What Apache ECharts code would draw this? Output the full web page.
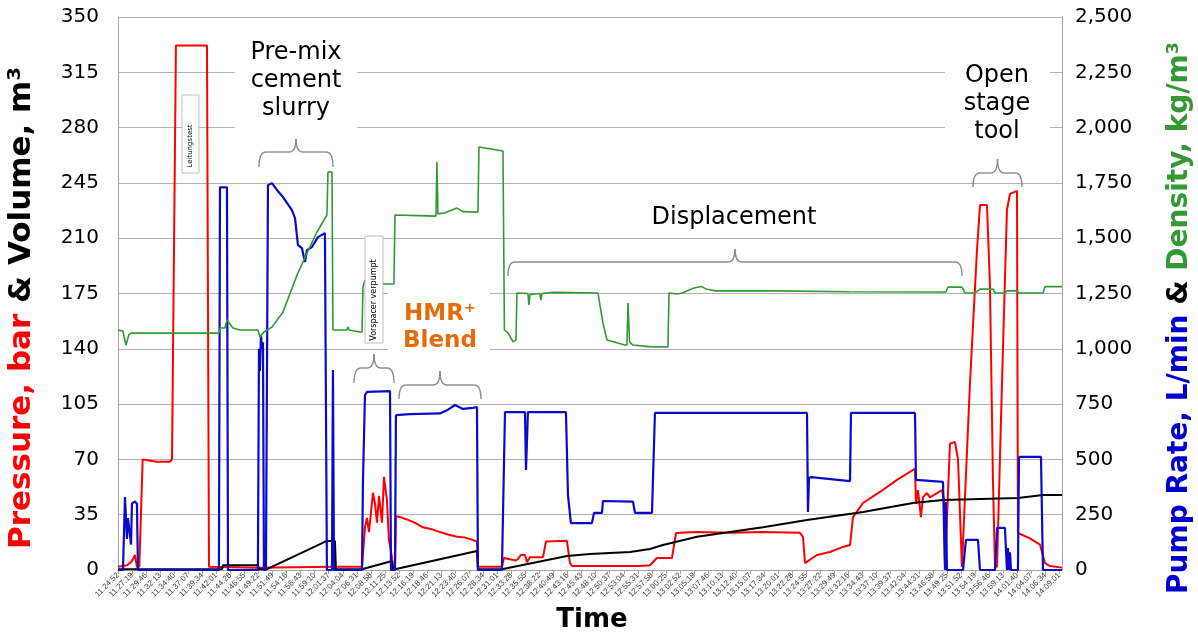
<!DOCTYPE html>
<html><head><meta charset="utf-8">
<script src="https://cdn.jsdelivr.net/npm/echarts@6/dist/echarts.min.js"></script>
<style>html,body{margin:0;padding:0;background:#fff}#c{width:1198px;height:637px}</style>
</head><body><div id="c"></div>
<script>
// time axis: seconds elapsed since logger start 11:22:25; labels every 147 s
const startClock = 11*3600 + 22*60 + 25;
const labelStep = 147;
const tMin = 147, tMax = 10024;

// Pressure, bar  [t (s), value]
const pressure = [[147,2],[241,3],[283,5],[314,8],[324,9.5],[345,2],[370,2],[405,70],[419,69],[550,68.5],[691,68.5],[712,70],[753,332],[1078,332],[1099,2],[1600,1.5],[2400,2],[2700,2],[2731,27],[2752,33],[2773,24],[2815,49],[2836,42],[2857,30],[2878,47],[2909,30],[2930,59],[2961,44],[2982,19],[3014,8],[3024,1],[3045,1],[3055,34],[3100,33.5],[3170,32],[3250,30],[3338,27],[3420,26],[3516,24],[3600,22.5],[3694,21],[3780,20.5],[3861,19],[3903,18],[3913,2],[4164,2],[4185,7.6],[4311,6],[4332,7],[4363,9.5],[4405,9.5],[4426,5],[4457,8],[4593,8],[4625,18],[4844,18.5],[4876,4.4],[4900,2.5],[5608,2.5],[5713,3],[5786,7.6],[5943,7.6],[5985,23.4],[6200,24],[6550,23.5],[6895,24],[7282,23.5],[7314,21],[7335,4.4],[7460,9.5],[7596,11.4],[7732,14.6],[7806,15.8],[7837,33.5],[7942,42.4],[8119,49.4],[8297,57],[8465,63.3],[8486,64],[8496,42],[8517,50.6],[8548,33.5],[8569,46],[8611,48.7],[8643,46],[8768,50.6],[8789,45],[8800,2],[8820,2],[8852,80],[8904,81],[8936,70],[8977,2],[8988,2],[9061,118],[9134,202],[9166,231],[9239,231],[9270,181],[9302,55],[9323,2],[9344,2],[9396,118],[9448,228],[9480,238],[9553,240],[9563,23.4],[9689,20],[9794,16],[9846,4.4],[9900,2.5],[10024,1.5]];

// Volume, m3
const volume = [[147,0.5],[1235,0.5],[1245,3],[1611,3],[1622,0.5],[1706,0.5],[2333,18.4],[2417,18.4],[2427,0.5],[2700,0.5],[3014,5.7],[3024,0.5],[3045,0.5],[3903,12],[3913,0.5],[4164,0.5],[4844,8.9],[5085,10.1],[5504,11.4],[5713,13.3],[5849,15.8],[6205,21],[6550,24],[6895,27],[7356,31.6],[7942,36.7],[8465,42.4],[8779,44.3],[9563,45.6],[9825,47.5],[10024,47.5]];

// Pump rate, L/min
const pumpRate = [[147,0],[199,0],[220,330],[241,140],[251,235],[272,160],[283,115],[293,300],[324,310],[345,300],[356,0],[1203,0],[1214,1730],[1287,1730],[1298,0],[1611,0],[1622,1000],[1632,900],[1643,1060],[1653,1000],[1664,1030],[1674,0],[1695,0],[1716,1740],[1758,1749],[1810,1718],[1873,1686],[1967,1627],[1999,1591],[2030,1469],[2072,1455],[2103,1392],[2124,1446],[2176,1460],[2239,1505],[2312,1523],[2323,1525],[2333,0],[2386,0],[2396,904],[2407,0],[2700,0],[2710,400],[2731,790],[2752,805],[2993,809],[3003,0],[3045,0],[3055,700],[3200,705],[3516,708],[3600,725],[3673,746],[3756,728],[3861,733],[3903,737],[3913,0],[4164,0],[4196,714],[4405,714],[4416,452],[4426,452],[4436,714],[4834,714],[4855,339],[4886,212],[5106,212],[5127,258],[5211,258],[5221,312],[5535,309],[5556,258],[5734,258],[5765,710],[7356,710],[7366,262],[7377,416],[7398,420],[7806,402],[7816,710],[8486,710],[8496,407],[8779,398],[8800,0],[8810,307],[8820,0],[8988,0],[9019,136],[9145,136],[9166,0],[9323,0],[9344,190],[9427,190],[9448,0],[9459,99],[9469,0],[9480,80],[9490,0],[9563,0],[9574,511],[9804,511],[9825,0],[10024,0]];

// Density, kg/m3
const density = [[147,1085],[199,1080],[230,1017],[262,1065],[283,1071],[1203,1071],[1214,1094],[1266,1094],[1287,1130],[1350,1094],[1423,1085],[1611,1085],[1632,1053],[1674,1076],[1706,1085],[1758,1098],[1873,1166],[2020,1333],[2124,1433],[2229,1528],[2333,1605],[2344,1799],[2386,1799],[2396,1085],[2540,1085],[2553,1098],[2566,1085],[2679,1076],[2700,1076],[2710,1279],[2731,1311],[2752,1293],[3034,1293],[3045,1605],[3474,1600],[3484,1844],[3495,1610],[3560,1614],[3694,1636],[3756,1620],[3913,1618],[3924,1912],[4175,1894],[4190,1085],[4230,1071],[4280,1031],[4311,1040],[4321,1252],[4436,1250],[4447,1198],[4457,1245],[4560,1250],[4572,1220],[4583,1250],[4700,1255],[5169,1252],[5221,1116],[5263,1040],[5451,1017],[5472,1017],[5483,1207],[5500,1030],[5535,1017],[5700,1010],[5901,1008],[5912,1252],[6000,1248],[6050,1252],[6173,1275],[6250,1282],[6300,1270],[6400,1262],[7000,1262],[7800,1258],[8810,1257],[8831,1279],[8977,1279],[9009,1252],[9113,1252],[9166,1270],[9302,1270],[9323,1252],[9427,1252],[9448,1262],[9553,1262],[9574,1252],[9825,1252],[9846,1281],[10024,1281]];

function clock(t){
  const s = startClock + t;
  const p = n => String(n).padStart(2,'0');
  return p(Math.floor(s/3600)) + ':' + p(Math.floor(s/60)%60) + ':' + p(s%60);
}

const FONT = '"DejaVu Sans", Verdana, sans-serif';
const chart = echarts.init(document.getElementById('c'));

function brace(b){
  const r = 7, xm = (b.x1 + b.x2)/2;
  const st = {stroke:'#8c8c8c', lineWidth:1.4, fill:null};
  const mk = (type, shape) => ({type, shape, style:st, z:20, silent:true});
  return [
    mk('bezierCurve',{x1:b.x1,y1:b.yEnd,x2:b.x1+r,y2:b.yH,cpx1:b.x1,cpy1:b.yH}),
    mk('line',{x1:b.x1+r,y1:b.yH,x2:xm-r,y2:b.yH}),
    mk('bezierCurve',{x1:xm-r,y1:b.yH,x2:xm,y2:b.yTip,cpx1:xm,cpy1:b.yH}),
    mk('bezierCurve',{x1:xm,y1:b.yTip,x2:xm+r,y2:b.yH,cpx1:xm,cpy1:b.yH}),
    mk('line',{x1:xm+r,y1:b.yH,x2:b.x2-r,y2:b.yH}),
    mk('bezierCurve',{x1:b.x2-r,y1:b.yH,x2:b.x2,y2:b.yEnd,cpx1:b.x2,cpy1:b.yH})
  ];
}
const braces = [
  {x1:259, x2:333, yEnd:167, yH:152, yTip:139},
  {x1:354, x2:394, yEnd:383, yH:368, yTip:354},
  {x1:399, x2:481, yEnd:399, yH:385, yTip:371},
  {x1:508, x2:962, yEnd:276, yH:262, yTip:249},
  {x1:973, x2:1022, yEnd:187, yH:173, yTip:159}
];
function whiteBox(x,y,w,h){ return {type:'rect', shape:{x,y,width:w,height:h}, style:{fill:'#fff'}, z:15, silent:true}; }
function txt(x,y,text,font,fill,extra){ return Object.assign({type:'text', x, y, z:30, silent:true, style:{text, font, fill, align:'center', verticalAlign:'middle'}}, extra||{}); }

const LF = 'bold 31px ' + FONT, RF = 'bold 28px ' + FONT;
const graphics = [
  whiteBox(235,30,122,104),
  whiteBox(388,289,102,68),
  whiteBox(945,57,105,88),
  {type:'rect', shape:{x:182,y:95,width:17,height:78}, style:{fill:'#fff', stroke:'#bfbfbf', lineWidth:1}, z:15, silent:true},
  {type:'rect', shape:{x:365,y:236,width:18,height:107}, style:{fill:'#fff', stroke:'#bfbfbf', lineWidth:1}, z:15, silent:true},
  txt(190,146,'Leitungstest','7px '+FONT,'#000',{rotation:Math.PI/2}),
  txt(374,300,'Vorspacer verpumpt','8px '+FONT,'#000',{rotation:Math.PI/2}),
  txt(296,53,'Pre-mix','24px '+FONT,'#000'),
  txt(296,81,'cement','24px '+FONT,'#000'),
  txt(296,109,'slurry','24px '+FONT,'#000'),
  txt(997,76,'Open','24px '+FONT,'#000'),
  txt(997,104,'stage','24px '+FONT,'#000'),
  txt(997,132,'tool','24px '+FONT,'#000'),
  txt(734,218,'Displacement','24px '+FONT,'#000'),
  txt(440,314,'HMR\u207A','bold 23px '+FONT,'#E46C0A'),
  txt(440,341,'Blend','bold 23px '+FONT,'#E46C0A'),
  txt(592,620,'Time','bold 26px '+FONT,'#000'),
  {type:'text', x:22, y:308, rotation:Math.PI/2, z:30, silent:true,
   style:{text:'{r|Pressure, bar} {k|&} {k|Volume, m³}', align:'center', verticalAlign:'middle', font:LF, fill:'#000',
     rich:{r:{fill:'#FF0000', font:LF}, k:{fill:'#000', font:LF}}}},
  {type:'text', x:1180, y:318, rotation:Math.PI/2, z:30, silent:true,
   style:{text:'{b|Pump Rate, L/min} {k|&} {g|Density, kg/m³}', align:'center', verticalAlign:'middle', font:RF, fill:'#000',
     rich:{b:{fill:'#0000CC', font:RF}, k:{fill:'#000', font:RF}, g:{fill:'#339933', font:RF}}}}
];
braces.forEach(b => graphics.push(...brace(b)));

const option = {
  animation:false,
  backgroundColor:'#fff',
  grid:{left:118, right:136, top:17, bottom:67},
  xAxis:{type:'value', min:tMin, max:tMax, interval:labelStep,
    axisLine:{show:true, onZero:false, lineStyle:{color:'#a6a6a6', width:1}},
    axisTick:{show:true, length:4, lineStyle:{color:'#a6a6a6'}},
    splitLine:{show:false},
    axisLabel:{rotate:45, fontSize:8, fontFamily:'"Liberation Sans", Arial, sans-serif', color:'#404040', margin:4, showMaxLabel:false,
      formatter: v => (Math.round(v) % labelStep === 0 ? clock(Math.round(v)) : '')}},
  yAxis:[
    {type:'value', min:0, max:350, interval:35, position:'left',
     axisLine:{show:true, lineStyle:{color:'#a6a6a6'}}, axisTick:{show:false},
     axisLabel:{fontSize:20, fontFamily:FONT, color:'#000', margin:19},
     splitLine:{show:true, lineStyle:{color:'#b3b3b3', width:1}}},
    {type:'value', min:0, max:2500, interval:250, position:'right',
     axisLine:{show:true, lineStyle:{color:'#a6a6a6'}}, axisTick:{show:false},
     axisLabel:{fontSize:20, fontFamily:FONT, color:'#000', margin:13, formatter: v => v.toLocaleString('en-US')},
     splitLine:{show:false}}
  ],
  series:[
    {name:'Pressure', type:'line', yAxisIndex:0, data:pressure, showSymbol:false, symbol:'none', lineStyle:{color:'#FF0000', width:2}, z:2},
    {name:'Volume', type:'line', yAxisIndex:0, data:volume, showSymbol:false, symbol:'none', lineStyle:{color:'#000000', width:2}, z:2},
    {name:'Pump Rate', type:'line', yAxisIndex:1, data:pumpRate, showSymbol:false, symbol:'none', lineStyle:{color:'#0A0ACC', width:2.2}, z:3},
    {name:'Density', type:'line', yAxisIndex:1, data:density, showSymbol:false, symbol:'none', lineStyle:{color:'#339933', width:1.6}, z:3}
  ],
  graphic:{elements:graphics}
};
chart.setOption(option);
</script></body></html>
